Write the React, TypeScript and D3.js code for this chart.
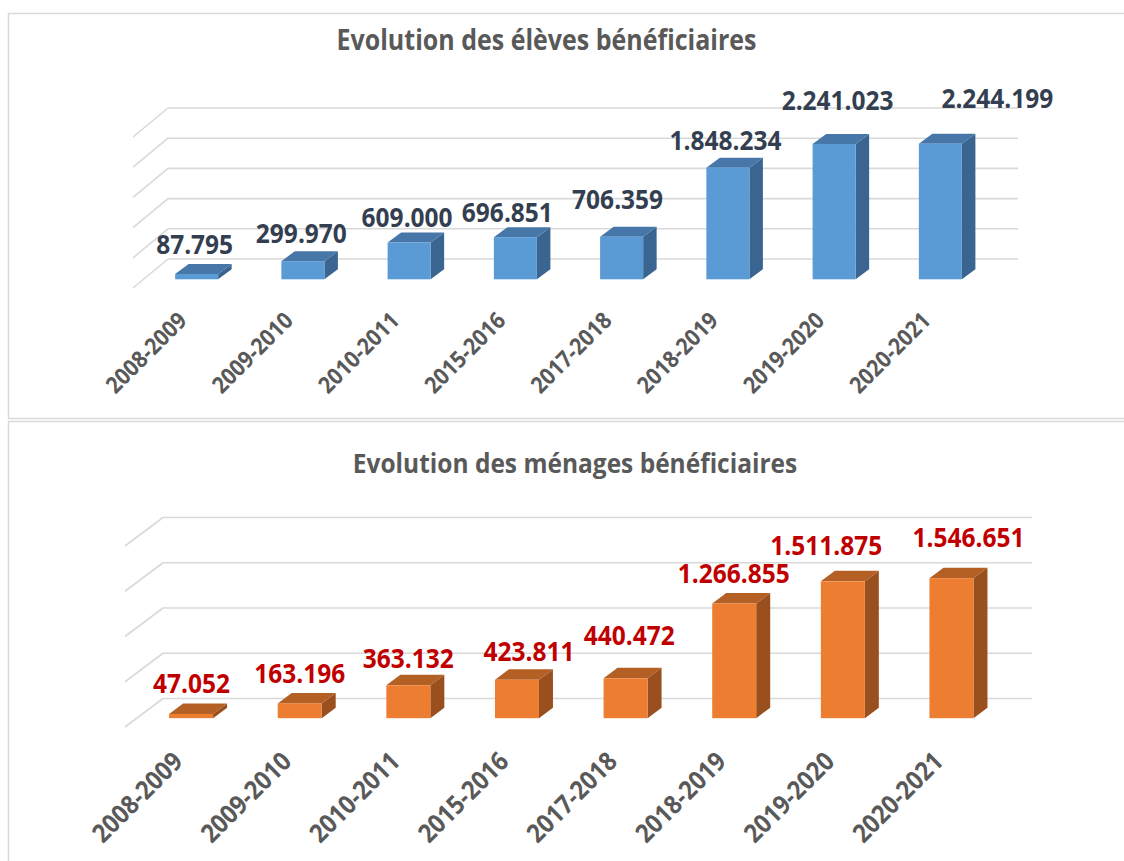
import React from 'react';
import * as d3 from 'd3';

const categories = ['2008-2009', '2009-2010', '2010-2011', '2015-2016', '2017-2018', '2018-2019', '2019-2020', '2020-2021'];
const elevesValues = [87795, 299970, 609000, 696851, 706359, 1848234, 2241023, 2244199];
const menagesValues = [47052, 163196, 363132, 423811, 440472, 1266855, 1511875, 1546651];
const elevesTicks = [0, 500000, 1000000, 1500000, 2000000, 2500000];
const menagesTicks = [0, 500000, 1000000, 1500000, 2000000];
const elevesTitle = 'Evolution des élèves bénéficiaires';
const menagesTitle = 'Evolution des ménages bénéficiaires';

// manual label nudges (dx, dy) as placed in the original chart
const elevesLabelNudge = [[-2, 0], [-1.5, 2], [-2, 4.5], [-8, 5], [-4, -8], [-2.3, 2], [3.5, -13.6], [57, -15.5]];
const menagesLabelNudge = [[0.5, 0], [0, 0], [0, 3.4], [12, 2], [3.6, -12.6], [-0.5, 0], [-16.6, -5.7], [17, -11]];

const fmt = (v: number) => d3.format(',')(v).replace(/,/g, '.');
const FONT = "'Open Sans', sans-serif";
const STRETCH = 1.12;

type Cfg = {
  values: number[];
  ticks: number[];
  title: string;
  titleX: number;
  titleY: number;
  titleSize: number;
  x0: number;
  x1: number;
  yBase: number;
  yTop: number;
  DX: number;
  DY: number;
  z0: number;
  bdx: number;
  bdy: number;
  front: string;
  top: string;
  side: string;
  labelColor: string;
  labelSize: number;
  nudge: number[][];
  catSize: number;
  catDx: number;
  catDy: number;
};

function Chart3D({ cfg }: { cfg: Cfg }) {
  const x = d3.scaleBand<string>().domain(categories).range([cfg.x0, cfg.x1]).paddingInner(0).paddingOuter(0);
  const y = d3.scaleLinear().domain([0, cfg.ticks[cfg.ticks.length - 1]]).range([cfg.yBase, cfg.yTop]);
  const bw = x.bandwidth() * 0.405;
  const ox = cfg.z0 * cfg.DX;
  const oy = cfg.z0 * cfg.DY;
  const grid = '#D9D9D9';
  return (
    <g>
      <text transform={`translate(${cfg.titleX},${cfg.titleY}) scale(1,${STRETCH})`} textAnchor="middle" fontFamily={FONT} fontWeight={700} fontSize={cfg.titleSize} fill="#595959">
        {cfg.title}
      </text>
      {cfg.ticks.map((t) => (
        <g key={t}>
          <line x1={cfg.x0} y1={y(t)} x2={cfg.x0 + cfg.DX} y2={y(t) - cfg.DY} stroke={grid} strokeWidth={1.6} />
          <line x1={cfg.x0 + cfg.DX} y1={y(t) - cfg.DY} x2={cfg.x1 + cfg.DX} y2={y(t) - cfg.DY} stroke={grid} strokeWidth={1.6} />
        </g>
      ))}
      {categories.map((c, i) => {
        const v = cfg.values[i];
        const bx = (x(c) as number) + (x.bandwidth() - bw) / 2 + ox;
        const by0 = y(0) - oy;
        const by1 = y(v) - oy;
        const topPts = [
          [bx, by1],
          [bx + bw, by1],
          [bx + bw + cfg.bdx, by1 - cfg.bdy],
          [bx + cfg.bdx, by1 - cfg.bdy],
        ];
        const sidePts = [
          [bx + bw, by1],
          [bx + bw + cfg.bdx, by1 - cfg.bdy],
          [bx + bw + cfg.bdx, by0 - cfg.bdy],
          [bx + bw, by0],
        ];
        const cx = bx + bw / 2 + cfg.nudge[i][0];
        const ly = by1 - cfg.bdy - 10 + cfg.nudge[i][1];
        const center = (x(c) as number) + x.bandwidth() / 2;
        const ax = center + cfg.catDx;
        const ay = y(0) + cfg.catDy;
        return (
          <g key={c}>
            <polygon points={sidePts.map((p) => p.join(',')).join(' ')} fill={cfg.side} />
            <polygon points={topPts.map((p) => p.join(',')).join(' ')} fill={cfg.top} />
            <rect x={bx} y={by1} width={bw} height={by0 - by1} fill={cfg.front} />
            <text transform={`translate(${cx},${ly}) scale(1,${STRETCH})`} textAnchor="middle" fontFamily={FONT} fontWeight={700} fontSize={cfg.labelSize} fill={cfg.labelColor}>
              {fmt(v)}
            </text>
            <text transform={`translate(${ax},${ay}) rotate(-45) scale(1,1.1)`} textAnchor="end" fontFamily={FONT} fontWeight={700} fontSize={cfg.catSize} fill="#595959">
              {c}
            </text>
          </g>
        );
      })}
    </g>
  );
}

const topCfg: Cfg = {
  values: elevesValues,
  ticks: elevesTicks,
  title: elevesTitle,
  titleX: 546.5,
  titleY: 50,
  titleSize: 25,
  x0: 133,
  x1: 983,
  yBase: 288,
  yTop: 137,
  DX: 35,
  DY: 29,
  z0: 0.3,
  bdx: 13.5,
  bdy: 10,
  front: '#5B9BD5',
  top: '#4677A8',
  side: '#3A6590',
  labelColor: '#333F50',
  labelSize: 24.5,
  nudge: elevesLabelNudge,
  catSize: 21,
  catDx: 2,
  catDy: 34,
};

const bottomCfg: Cfg = {
  values: menagesValues,
  ticks: menagesTicks,
  title: menagesTitle,
  titleX: 575,
  titleY: 473,
  titleSize: 24.5,
  x0: 125,
  x1: 994,
  yBase: 727,
  yTop: 546,
  DX: 38,
  DY: 28.5,
  z0: 0.31,
  bdx: 14,
  bdy: 10.5,
  front: '#ED7D31',
  top: '#B45F24',
  side: '#9A4F1E',
  labelColor: '#C00000',
  labelSize: 24.5,
  nudge: menagesLabelNudge,
  catSize: 23.5,
  catDx: 5,
  catDy: 36,
};

export default function App() {
  return (
    <svg width={1124} height={861} style={{ position: 'absolute', left: 0, top: 0, background: '#fff' }}>
      <rect x={0} y={0} width={1124} height={861} fill="#fff" />
      <rect x={8.5} y={13.5} width={1140} height={405} fill="#fff" stroke="#D9D9D9" strokeWidth={1.5} />
      <rect x={8.5} y={421.5} width={1140} height={460} fill="#fff" stroke="#D9D9D9" strokeWidth={1.5} />
      <Chart3D cfg={topCfg} />
      <Chart3D cfg={bottomCfg} />
    </svg>
  );
}
